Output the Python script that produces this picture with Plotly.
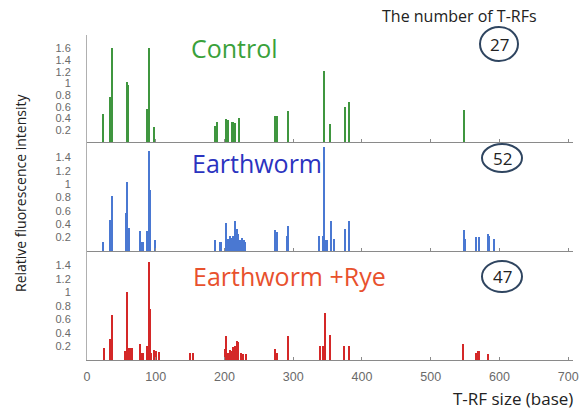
import plotly.graph_objects as go

# ---------------- data ----------------
control_x = [23, 34, 36, 59, 60, 88, 90, 97, 187, 189, 203, 205, 211, 213, 216, 221,
             274, 276, 292, 345, 354, 375, 382, 548]
control_y = [0.48, 0.77, 1.6, 1.02, 0.98, 0.56, 1.6, 0.26, 0.27, 0.35, 0.39, 0.38,
             0.35, 0.34, 0.33, 0.41, 0.45, 0.45, 0.53, 1.21, 0.31, 0.6, 0.68, 0.54]

earthworm_x = [23, 34, 36, 57, 59, 61, 62, 77, 79, 81, 88, 90, 92, 99, 187, 194, 195,
               203, 205, 208, 211, 213, 216, 218, 220, 223, 226, 228, 230, 274, 276,
               291, 292, 338, 343, 345, 347, 349, 355, 359, 375, 382, 548, 550, 566,
               571, 583, 585, 592]
earthworm_y = [0.14, 0.47, 0.83, 0.57, 1.03, 0.35, 0.33, 0.3, 0.14, 0.13, 0.3, 1.49,
               0.91, 0.16, 0.16, 0.13, 0.13, 0.42, 0.18, 0.22, 0.19, 0.22, 0.45, 0.33,
               0.25, 0.17, 0.2, 0.16, 0.13, 0.32, 0.28, 0.22, 0.38, 0.23, 0.23, 1.56,
               0.16, 0.16, 0.45, 0.18, 0.33, 0.45, 0.32, 0.18, 0.21, 0.21, 0.26, 0.23,
               0.18]

rye_x = [25, 34, 36, 55, 59, 61, 63, 65, 77, 80, 81, 87, 88, 90, 92, 93, 98, 101, 105,
         150, 154, 201, 202, 205, 208, 211, 213, 216, 218, 220, 224, 227, 232, 274, 276,
         292, 339, 343, 346, 354, 374, 381, 547, 566, 569, 571, 583]
rye_y = [0.17, 0.31, 0.66, 0.14, 1.0, 0.17, 0.17, 0.17, 0.23, 0.1, 0.1, 0.1, 0.2, 1.45,
         0.75, 0.1, 0.15, 0.14, 0.12, 0.1, 0.1, 0.16, 0.35, 0.1, 0.15, 0.14, 0.19, 0.21,
         0.28, 0.26, 0.1, 0.09, 0.09, 0.16, 0.1, 0.36, 0.21, 0.21, 0.69, 0.37, 0.21, 0.21,
         0.24, 0.1, 0.13, 0.13, 0.09]

panel_names = ["Control", "Earthworm", "Earthworm +Rye"]
trf_counts = ["27", "52", "47"]
x_tick_vals = [0, 100, 200, 300, 400, 500, 600, 700]
y_ticks_control = [0.2, 0.4, 0.6, 0.8, 1.0, 1.2, 1.4, 1.6]
y_ticks_other = [0.2, 0.4, 0.6, 0.8, 1.0, 1.2, 1.4]

# ---------------- styling ----------------
bar_colors = ["#3f963f", "#4a78d2", "#d42828"]
label_colors = ["#3aa13a", "#2b33c0", "#e8512d"]
axis_color = "#8a8a8a"
tick_font = dict(family="Liberation Sans, Arial, sans-serif", size=11, color="#6a6a6a")
text_font = "Open Sans, Lato, sans-serif"

# the page body margin is removed (see post_script), so the figure fills the window
W, H = 583, 416
ML, MT = 87, 35
MR = W - 573     # plot area right edge at x=573
MB = H - 360     # bottom baseline at y=360
PW, PH = W - ML - MR, H - MT - MB


def px_x(p):
    return (p - ML) / PW


def px_y(p):
    return (H - MB - p) / PH


# panel pixel boundaries in target picture (top, bottom)
panels_px = [(35, 142), (142, 251), (251, 360)]
y_ranges = [[0, 1.83], [0, 1.63], [0, 1.61]]

fig = go.Figure()
series = [(control_x, control_y), (earthworm_x, earthworm_y), (rye_x, rye_y)]
for i, (xs, ys) in enumerate(series):
    suffix = "" if i == 0 else str(i + 1)
    fig.add_trace(go.Bar(x=xs, y=ys, width=1.9, marker=dict(color=bar_colors[i], line=dict(width=0)),
                         xaxis="x" + suffix, yaxis="y" + suffix, showlegend=False,
                         hoverinfo="x+y"))

layout = dict(width=W, height=H, margin=dict(l=ML, r=MR, t=MT, b=MB, autoexpand=False),
              paper_bgcolor="white", plot_bgcolor="white", bargap=0)

for i in range(3):
    suffix = "" if i == 0 else str(i + 1)
    top, bot = panels_px[i]
    yt = y_ticks_control if i == 0 else y_ticks_other
    layout["yaxis" + suffix] = dict(
        domain=[px_y(bot), px_y(top)], range=y_ranges[i], anchor="x" + suffix,
        tickvals=yt, ticktext=[("%g" % v) for v in yt], tickfont=tick_font,
        showline=True, linecolor="#b0b0b0", linewidth=1, ticks="", showgrid=False,
        zeroline=False, ticklabelstandoff=13, fixedrange=True, automargin=False)
    layout["xaxis" + suffix] = dict(
        domain=[0, 1], range=[0, 707], anchor="y" + suffix,
        tickvals=x_tick_vals, ticktext=[str(v) for v in x_tick_vals],
        showticklabels=(i == 2), tickfont=dict(family=tick_font["family"], size=12.5, color="#6a6a6a"),
        showline=True, linecolor=axis_color, linewidth=1, ticks="inside", ticklen=3,
        tickcolor=axis_color, showgrid=False, zeroline=False, ticklabelstandoff=5,
        fixedrange=True, automargin=False, ticklabeloverflow="allow")
    if i > 0:
        layout["xaxis" + suffix]["matches"] = "x"

fig.update_layout(**layout)


def add_text(text, cx, cy, size, color, angle=0):
    fig.add_annotation(text=text, x=px_x(cx), y=px_y(cy), xref="paper", yref="paper",
                       xanchor="center", yanchor="middle", showarrow=False, textangle=angle,
                       font=dict(family=text_font, size=size, color=color))


# panel labels
label_pos = [(234, 48), (257, 163), (289, 276)]
for i, name in enumerate(panel_names):
    add_text(name, label_pos[i][0], label_pos[i][1], 25, label_colors[i])

# circled counts
circ = [((480, 27), (518, 61), (499, 44)),
        ((482, 144), (522, 172), (502, 158)),
        ((482, 261), (522, 292), (502, 276))]
for i, cnt in enumerate(trf_counts):
    (x0, y0), (x1, y1), (cx, cy) = circ[i]
    fig.add_shape(type="circle", xref="paper", yref="paper",
                  x0=px_x(x0), x1=px_x(x1), y0=px_y(y1), y1=px_y(y0),
                  line=dict(color="#2f4560", width=2), fillcolor="rgba(0,0,0,0)")
    add_text(cnt, cx, cy, 17, "#222222")

add_text("The number of T-RFs", 459, 16, 16, "#222222")
add_text("T-RF size (base)", 513, 398, 17, "#222222")
add_text("Relative fluorescence intensity", 20, 193, 14, "#222222", angle=-90)

fig.write_html("out.html", config={"displayModeBar": False},
               post_script="document.body.style.margin='0';document.body.style.overflow='hidden';")
